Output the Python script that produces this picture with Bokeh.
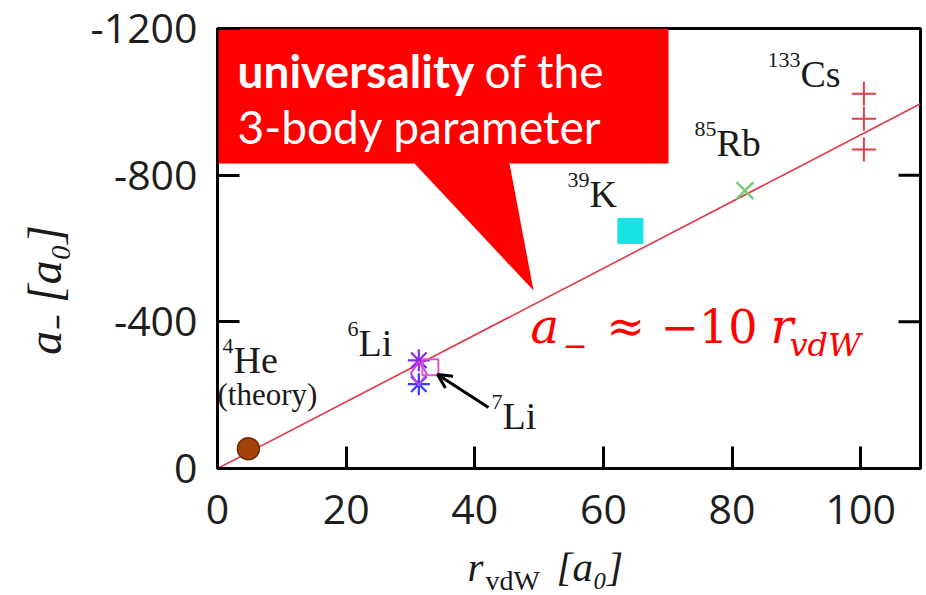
from bokeh.plotting import figure
from bokeh.layouts import row, column
from bokeh.models import Range1d, FixedTicker, Arrow, OpenHead
from bokeh.core.properties import value
from bokeh.embed import file_html
from bokeh.resources import INLINE

# ---- data: van der Waals length r_vdW [a0] vs. three-body parameter a_- [a0] ----
he_r = [4.8]
he_a = [-54]
li6_r = [31.3, 31.3]
li6_a = [-295, -230]
li7_r = [31.3, 33.1]
li7_a = [-259, -276]
k_r = [64.2]
k_a = [-648]
rb_r = [82.0]
rb_a = [-758]
cs_r = [100.5, 100.5, 100.5]
cs_a = [-1022, -954, -870]
fit_slope = -9.1
fit_r = [0, 109.3]

x_ticks = [0, 20, 40, 60, 80, 100]
y_ticks = [0, -400, -800, -1200]
right_ticks = [-400, -800]
x_tick_labels = ["0", "20", "40", "60", "80", "100"]
y_tick_labels = ["0", "-400", "-800", "-1200"]

# ---- page geometry (pixels) ----
W, H = 926, 595
LEFT_W = 78            # strip holding the vertical axis title
MAIN_H = 545           # main plot height; the strip below holds the x title
PX_L, PX_R, PX_T, PX_B = 217, 920, 28, 468
X_MAX = 109.3
Y_MIN = -1200
BASE_SHIFT = 0.37      # svg text sits this fraction of the font size below its anchor


def dx(px):
    return (px - PX_L) / (PX_R - PX_L) * X_MAX


def dy(py):
    return Y_MIN * (PX_B - py) / (PX_B - PX_T)


p = figure(width=W - LEFT_W, height=MAIN_H, x_range=Range1d(0, X_MAX),
           y_range=Range1d(0, Y_MIN), output_backend="svg", toolbar_location=None,
           min_border_left=PX_L - LEFT_W, min_border_right=W - PX_R,
           min_border_top=PX_T, min_border_bottom=MAIN_H - PX_B)
p.background_fill_color = "white"
p.border_fill_color = "white"
p.outline_line_color = "black"
p.outline_line_width = 3
p.xgrid.visible = False
p.ygrid.visible = False

TICK_FONT = "Open Sans"
for ax, ticks, labels in ((p.xaxis[0], x_ticks, x_tick_labels),
                          (p.yaxis[0], y_ticks, y_tick_labels)):
    ax.ticker = FixedTicker(ticks=ticks)
    ax.major_label_overrides = dict(zip(ticks, labels))
    ax.major_tick_in = 22
    ax.major_tick_out = 0
    ax.major_tick_line_width = 3
    ax.major_tick_line_color = "black"
    ax.minor_tick_line_color = None
    ax.axis_line_color = None
    ax.major_label_text_font = TICK_FONT
    ax.major_label_text_font_size = "41px"
    ax.major_label_text_color = "#1e1e1e"
p.xaxis.major_label_standoff = 26
p.yaxis.major_label_standoff = 20

# inward ticks on the right edge of the frame
p.segment(x0=[dx(PX_R - 22)] * len(right_ticks), y0=right_ticks,
          x1=[X_MAX] * len(right_ticks), y1=right_ticks,
          line_color="black", line_width=3)

# ---- fit line ----
p.line(fit_r, [fit_slope * r for r in fit_r], line_color="#e0384a", line_width=1.6)

# ---- species ----
p.scatter(he_r, he_a, marker="circle", size=22, fill_color="#a2420a",
          line_color="#6e2c05", line_width=1.5)
p.scatter(li6_r, li6_a, marker="asterisk", size=22, line_color=["#8a2be2", "#3a3aff"],
          line_width=2.2)
p.scatter(li7_r[:1], li7_a[:1], marker="diamond", size=24, fill_color=None,
          line_color="#cc44dd", line_width=2)
p.scatter(li7_r[1:], li7_a[1:], marker="square", size=16, fill_color=None,
          line_color="#dd55dd", line_width=2)
p.scatter(k_r, k_a, marker="square", size=25, fill_color="#14e4e4", line_color="#14e4e4")
p.scatter(rb_r, rb_a, marker="x", size=24, line_color="#77cc77", line_width=2.5)
p.scatter(cs_r, cs_a, marker="cross", size=24, line_color="#e23a48", line_width=2)

# arrow pointing at 7Li
p.add_layout(Arrow(end=OpenHead(size=14, line_width=3, line_color="black"),
                   x_start=dx(488), y_start=dy(407), x_end=dx(437), y_end=dy(374),
                   line_width=3, line_color="black"))


def txt(fig, x, y, text, size, font, color, style="normal", align="left",
        baseline="alphabetic", angle=0.0):
    fig.text(x=[x], y=[y], text=[text], text_font=value(font),
             text_font_size=f"{size}px", text_font_style=style, text_color=color,
             text_align=align, text_baseline=baseline, angle=angle)


def ptxt(px, py, text, size, font, color, style="normal", align="left"):
    """Text in the main frame, placed by its baseline in page pixels."""
    txt(p, dx(px), dy(py - BASE_SHIFT * size), text, size, font, color, style, align)


SERIF = "Liberation Serif"
INK = "#1a1a1a"


def elem(sup, name, px, py, size=38, sup_size=22):
    ptxt(px, py, name, size, SERIF, INK)
    ptxt(px, py - 20, sup, sup_size, SERIF, INK, align="right")


# ---- callout ----
box = [(218, 28), (668, 28), (668, 163), (509, 163), (533, 290), (414, 163), (218, 163)]
p.patch([dx(a) for a, _ in box], [dy(b) for _, b in box], fill_color="#ff0000",
        line_color=None)
CALLOUT_FONT = "Lato"
ptxt(237, 87, "universality", 46, CALLOUT_FONT, "white", style="bold")
ptxt(484, 87, "of the", 46, CALLOUT_FONT, "white")
ptxt(237, 143, "3-body parameter", 46, CALLOUT_FONT, "white")

elem("4", "He", 233, 374)
ptxt(217, 405, "(theory)", 31, SERIF, INK)
elem("6", "Li", 358, 357)
elem("7", "Li", 502, 430)
elem("39", "K", 589, 208)
elem("85", "Rb", 716, 157)
elem("133", "Cs", 800, 88)

# ---- formula a_- ≈ -10 r_vdW ----
MATH = "DejaVu Serif"
RED = "#ff0000"
ptxt(530, 343, "a", 48, MATH, RED, style="italic")
ptxt(562, 356, "\u2212", 30, MATH, RED)
ptxt(606, 343, "\u2248", 46, MATH, RED)
ptxt(660, 343, "\u221210", 46, MATH, RED)
ptxt(770, 343, "r", 48, MATH, RED, style="italic")
ptxt(789, 356, "vdW", 32, MATH, RED, style="italic")


# ---- axis titles, drawn in strips addressed in page pixels ----
def strip(width, height, x0, y0):
    f = figure(width=width, height=height, x_range=Range1d(x0, x0 + width),
               y_range=Range1d(y0 + height, y0), output_backend="svg",
               toolbar_location=None, x_axis_location=None, y_axis_location=None,
               min_border=0, min_border_left=0, min_border_right=0,
               min_border_top=0, min_border_bottom=0)
    f.outline_line_color = None
    f.background_fill_color = "white"
    f.border_fill_color = "white"
    f.xgrid.visible = False
    f.ygrid.visible = False
    return f


left = strip(LEFT_W, MAIN_H, 0, 0)
txt(left, 44, 324, "a\u208b [a\u2080]", 48, SERIF, INK, style="italic", align="center",
    baseline="middle", angle=1.5708)

bottom = strip(W, H - MAIN_H, 0, MAIN_H)
txt(bottom, 467, 582 - BASE_SHIFT * 41, "r", 41, SERIF, INK, style="italic")
txt(bottom, 485, 590 - BASE_SHIFT * 28, "vdW", 28, SERIF, INK)
txt(bottom, 556, 582 - BASE_SHIFT * 41, "[a\u2080]", 41, SERIF, INK, style="italic")

page = column(row(left, p, spacing=0), bottom, spacing=0)
open("out.html", "w").write(file_html(page, INLINE))
